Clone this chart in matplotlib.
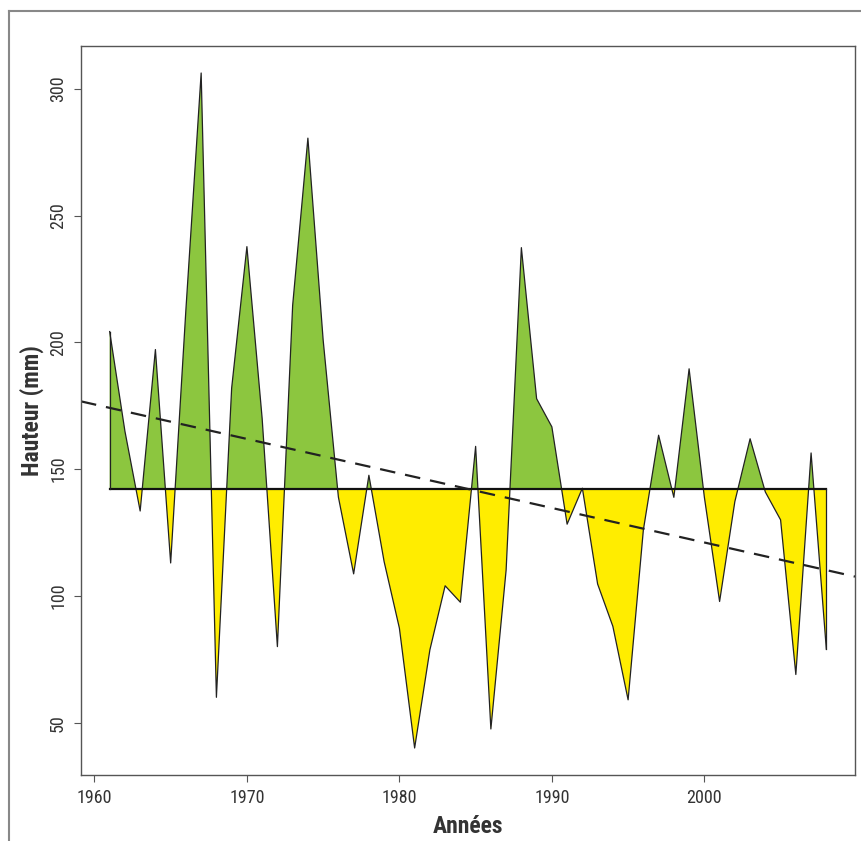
import numpy as np
import matplotlib
matplotlib.use("Agg")
import matplotlib.pyplot as plt
from matplotlib.lines import Line2D
from matplotlib import font_manager

years = list(range(1961, 2009))
hauteur = [204.3, 165.0, 133.5, 197.2, 113.0, 213.0, 306.3, 60.0, 182.0, 237.8,
           170.0, 80.0, 214.6, 280.6, 201.0, 139.0, 108.7, 147.6, 113.5, 87.3,
           40.0, 78.7, 104.0, 97.5, 159.0, 47.5, 110.2, 237.4, 177.8, 166.7,
           128.3, 142.5, 104.7, 88.0, 59.0, 126.0, 163.4, 138.9, 189.6, 139.0,
           97.8, 137.2, 162.0, 141.0, 130.0, 69.0, 156.4, 79.0]
xticks = [1960, 1970, 1980, 1990, 2000]
yticks = [50, 100, 150, 200, 250, 300]

names = {f.name for f in font_manager.fontManager.ttflist}
cands = ['Roboto Condensed', 'Open Sans Condensed', 'Liberation Sans Narrow',
         'DejaVu Sans Condensed', 'Roboto', 'DejaVu Sans']
fams = [c for c in cands if c in names] or ['DejaVu Sans']
plt.rcParams['font.family'] = fams + ['DejaVu Sans']
condensed = fams[0] in ('Roboto Condensed', 'Open Sans Condensed', 'Liberation Sans Narrow', 'DejaVu Sans Condensed')

x = np.array(years, dtype=float)
y = np.array(hauteur, dtype=float)
base = y.mean()

fig = plt.figure(figsize=(8.61, 8.41), dpi=100)
ax = fig.add_axes([81/861, 1-775/841, (855-81)/861, (775-46)/841])

green = '#8CC63F'
yellow = '#FFED00'
ax.fill_between(x, y, base, where=y >= base, interpolate=True, color=green, lw=0)
ax.fill_between(x, y, base, where=y <= base, interpolate=True, color=yellow, lw=0)
ax.plot(x, y, color='#222222', lw=0.9)
ax.plot([x[0], x[-1]], [base, base], color='#111111', lw=1.6)
ax.plot([x[0], x[0]], [base, y[0]], color='#222222', lw=0.9)
ax.plot([x[-1], x[-1]], [base, y[-1]], color='#222222', lw=0.9)

# linear trend
slope, icpt = np.polyfit(x, y, 1)
xr = x.max() - x.min()
xlim = (x.min() - 0.04 * xr, x.max() + 0.04 * xr)
yr = y.max() - y.min()
ylim = (y.min() - 0.04 * yr, y.max() + 0.04 * yr)
xl = np.array(xlim)
ax.plot(xl, icpt + slope * xl, color='#222222', lw=1.6, ls=(0, (7, 4.5)))

tsize = 13 if condensed else 11.5
lsize = 17 if condensed else 14.5

ax.set_xlim(*xlim)
ax.set_ylim(*ylim)
ax.set_xticks(xticks)
ax.set_yticks(yticks)
ax.set_xticklabels([str(t) for t in xticks])
ax.set_yticklabels([str(t) for t in yticks], rotation=90, va='center')
ax.tick_params(axis='both', direction='out', length=5, width=0.8, color='#555555',
               labelsize=tsize, labelcolor='#333333', pad=5)
for s in ax.spines.values():
    s.set_color('#555555')
    s.set_linewidth(1.0)

ax.set_xlabel('Années', fontsize=lsize, fontweight='bold', color='#333333', labelpad=6)
ax.set_ylabel('Hauteur (mm)', fontsize=lsize, fontweight='bold', color='#333333', labelpad=3.5)

# outer frame
fig.add_artist(Line2D([8.5/861, 8.5/861], [0, 1-11/841], transform=fig.transFigure, color='#888888', lw=1.5))
fig.add_artist(Line2D([8.5/861, 1], [1-11/841, 1-11/841], transform=fig.transFigure, color='#888888', lw=1.5))

fig.savefig('out.png', dpi=100)
